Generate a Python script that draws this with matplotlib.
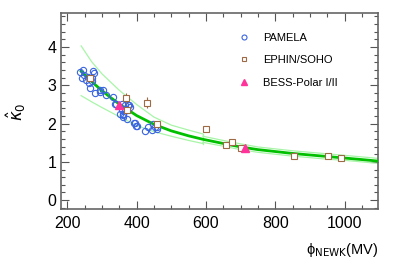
import numpy as np
import matplotlib
matplotlib.use('Agg')
import matplotlib.pyplot as plt
from matplotlib.ticker import MultipleLocator

plt.rcParams['font.family'] = ['Liberation Sans', 'DejaVu Sans']
plt.rcParams['mathtext.fontset'] = 'dejavusans'

# PAMELA points (phi in MV, kappa_0)
pamela_phi = [238, 244, 247, 242, 255, 261, 264, 271, 276, 274, 266, 270,
              281, 293, 295, 303, 312, 332, 338, 341, 353, 358, 358, 362,
              362, 367, 367, 372, 375, 377, 382, 362, 372, 393, 396, 399,
              401, 425, 433, 444, 446, 454, 458, 460]
pamela_k = [3.35, 3.41, 3.26, 3.18, 3.13, 3.22, 3.06, 3.18, 3.31, 3.38, 2.94, 3.10,
            2.79, 2.87, 2.83, 2.87, 2.74, 2.70, 2.52, 2.52, 2.26, 2.52, 2.35, 2.26,
            2.22, 2.39, 2.48, 2.11, 2.48, 2.48, 2.44, 2.17, 2.35, 2.02, 2.02, 1.93,
            1.93, 1.81, 1.90, 1.83, 2.00, 1.90, 1.86, 1.90]

# EPHIN/SOHO points with errors
ephin_phi = [266, 369, 372, 430, 459, 600, 657, 674, 700, 853, 952, 990]
ephin_k = [3.18, 2.67, 2.35, 2.55, 1.98, 1.87, 1.45, 1.51, 1.36, 1.16, 1.15, 1.11]
ephin_err = [0.04, 0.12, 0.04, 0.15, 0.05, 0.07, 0.03, 0.03, 0.03, 0.03, 0.03, 0.03]

# BESS-Polar I/II
bess_phi = [348, 713]
bess_k = [2.48, 1.37]

# fit curve
fit_phi = [240, 260, 280, 300, 325, 350, 375, 400, 450, 500, 550, 591, 650, 700,
           750, 800, 850, 900, 950, 1000, 1050, 1097]
fit_k = [3.37, 3.19, 3.02, 2.86, 2.68, 2.51, 2.36, 2.21, 1.98, 1.81, 1.68, 1.59, 1.48, 1.39,
         1.32, 1.27, 1.22, 1.18, 1.14, 1.10, 1.06, 1.02]

# wide uncertainty band (low phi)
band1_phi = [240, 270, 300, 350, 400, 450, 500, 550, 591]
band1_up = [4.03, 3.62, 3.30, 2.87, 2.50, 2.17, 1.96, 1.83, 1.73]
band1_lo = [2.73, 2.57, 2.42, 2.18, 1.95, 1.79, 1.67, 1.56, 1.48]

# narrow uncertainty band (high phi)
band2_phi = [591, 650, 700, 750, 800, 850, 900, 950, 1000, 1050, 1097]
band2_up = [1.67, 1.56, 1.47, 1.39, 1.34, 1.29, 1.25, 1.21, 1.17, 1.13, 1.09]
band2_lo = [1.51, 1.41, 1.32, 1.25, 1.20, 1.15, 1.11, 1.07, 1.04, 1.00, 0.96]

fig = plt.figure(figsize=(3.99, 2.62), dpi=100)
ax = fig.add_axes([0.153, 0.201, 0.795, 0.748])

band_col = '#a8f5a8'
ax.plot(band1_phi, band1_up, color=band_col, lw=0.9)
ax.plot(band1_phi, band1_lo, color=band_col, lw=0.9)
ax.plot([band1_phi[-1], band1_phi[-1]], [band1_lo[-1], band1_up[-1]], color=band_col, lw=0.9)
ax.plot(band2_phi, band2_up, color=band_col, lw=0.9)
ax.plot(band2_phi, band2_lo, color=band_col, lw=0.9)
ax.plot(fit_phi, fit_k, color='#00c000', lw=2.0, zorder=3)

h1, = ax.plot(pamela_phi, pamela_k, 'o', mfc='none', mec='#3a64e0', mew=0.8, ms=4.5,
              label='PAMELA', zorder=4)
ax.errorbar(ephin_phi, ephin_k, yerr=ephin_err, fmt='none', ecolor='#9c6a45',
            elinewidth=0.8, capsize=0, zorder=5)
h2, = ax.plot(ephin_phi, ephin_k, 's', mfc='white', mec='#9c6a45', mew=0.8, ms=4.2,
              label='EPHIN/SOHO', zorder=5)
h3, = ax.plot(bess_phi, bess_k, '^', color='#ff3399', ms=5.5, label='BESS-Polar I/II', zorder=6)

ax.set_xlim(182, 1097)
ax.set_ylim(-0.24, 4.88)
ax.xaxis.set_major_locator(MultipleLocator(200))
ax.xaxis.set_minor_locator(MultipleLocator(50))
ax.yaxis.set_major_locator(MultipleLocator(1))
ax.yaxis.set_minor_locator(MultipleLocator(0.2))
ax.tick_params(which='both', direction='in', top=True, right=True, colors='#555555',
               labelcolor='black', labelsize=11.5, width=0.8)
ax.tick_params(which='major', length=6)
ax.tick_params(which='minor', length=3)
ax.tick_params(axis='x', pad=5)
for s in ax.spines.values():
    s.set_color('#666666')
    s.set_linewidth(1.2)

ax.set_ylabel(r'$\hat{\kappa}_0$', fontsize=12, labelpad=14)
ax.set_xlabel('ϕ$_{\\mathrm{NEWK}}$(MV)', fontsize=10.5, loc='right', labelpad=7)

leg = ax.legend(handles=[h1, h2, h3], loc='upper left', bbox_to_anchor=(0.52, 0.95),
                frameon=False, fontsize=8, labelspacing=1.1, handletextpad=0.9,
                markerscale=0.8, handlelength=1.5)

fig.savefig('out.png', dpi=100)
